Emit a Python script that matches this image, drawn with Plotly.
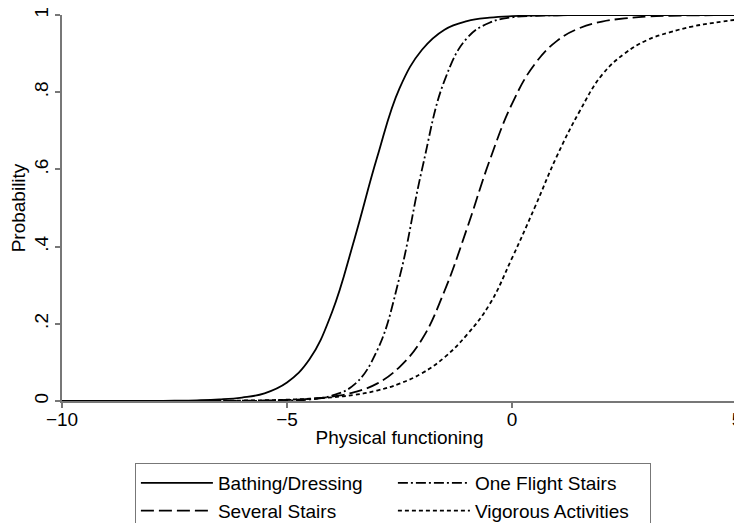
import plotly.graph_objects as go

# x grid (Physical functioning)
theta = [-10, -9.5, -9, -8.5, -8, -7.5, -7, -6.5, -6, -5.5, -5, -4.5, -4, -3.5, -3,
         -2.5, -2, -1.5, -1, -0.5, 0, 0.5, 1, 1.5, 2, 2.5, 3, 3.5, 4, 4.5, 5]

bathing = [0.0, 0.0, 0.0001, 0.0001, 0.0003, 0.0007, 0.0017, 0.004, 0.009, 0.02, 0.048,
           0.108, 0.23, 0.42, 0.63, 0.81, 0.91, 0.962, 0.984, 0.993, 0.997, 0.9985,
           0.9994, 0.9998, 1.0, 1.0, 1.0, 1.0, 1.0, 1.0, 1.0]

one_flight = [0.0, 0.0, 0.0, 0.0, 0.0, 0.0, 0.0001, 0.0001, 0.0002, 0.0004, 0.0013,
              0.004, 0.014, 0.043, 0.13, 0.32, 0.60, 0.83, 0.94, 0.98, 0.994, 0.998,
              0.9994, 0.9998, 1.0, 1.0, 1.0, 1.0, 1.0, 1.0, 1.0]

several = [0.0, 0.0, 0.00001, 0.00002, 0.00004, 0.00008, 0.00016, 0.00033, 0.00067,
           0.0014, 0.0028, 0.0056, 0.0113, 0.023, 0.045, 0.088, 0.16, 0.285, 0.447,
           0.622, 0.77, 0.872, 0.933, 0.966, 0.983, 0.991, 0.996, 0.998, 0.999,
           0.9995, 0.9998]

vigorous = [0.00002, 0.00003, 0.00004, 0.00007, 0.00013, 0.0002, 0.0004, 0.0007, 0.0012,
            0.002, 0.0034, 0.0058, 0.0095, 0.016, 0.027, 0.045, 0.072, 0.113, 0.172,
            0.25, 0.37, 0.50, 0.635, 0.75, 0.845, 0.90, 0.935, 0.955, 0.97, 0.98, 0.988]

names = ["Bathing/Dressing", "One Flight Stairs", "Several Stairs", "Vigorous Activities"]
series = [bathing, one_flight, several, vigorous]
dashes = ["solid", "10px,3px,2px,3px", "13px,5px", "4px,3px"]

x_ticks = [-10, -5, 0, 5]
x_tick_text = ["\u221210", "\u22125", "0", "5"]
y_ticks = [0, 0.2, 0.4, 0.6, 0.8, 1]
y_tick_text = ["0", ".2", ".4", ".6", ".8", "1"]

FS = 19

fig = go.Figure()
for name, ys, dash in zip(names, series, dashes):
    fig.add_trace(go.Scatter(
        x=theta, y=ys, name=name, mode="lines",
        line=dict(color="black", width=1.8, dash=dash, shape="spline", smoothing=1.2),
    ))

axis_common = dict(
    showgrid=False, zeroline=False, showline=True, linecolor="#777777", linewidth=1.5,
    ticks="outside", ticklen=5, tickwidth=1.5, tickcolor="#777777",
    tickfont=dict(size=FS, color="black"), ticklabeloverflow="allow",
)

# page body has an 8px margin: figure is 734x515 so it fills the 742x523 window
fig.update_layout(
    width=734, height=515,
    margin=dict(l=54, r=5, t=7, b=122, autoexpand=False),
    paper_bgcolor="white", plot_bgcolor="white",
    font=dict(family="Liberation Sans, Arial, sans-serif", size=FS, color="black"),
    xaxis=dict(range=[-10, 5], tickvals=x_ticks, ticktext=x_tick_text,
               ticklabelstandoff=-5,
               title=dict(text="Physical functioning", standoff=2, font=dict(size=FS)),
               **axis_common),
    yaxis=dict(range=[0, 1], tickvals=y_ticks, ticktext=y_tick_text, tickangle=-90,
               title=dict(text="Probability", standoff=2, font=dict(size=FS)),
               **axis_common),
    showlegend=True,
    legend=dict(
        orientation="h", x=0.108, y=-0.1606, xanchor="left", yanchor="top",
        bordercolor="#777777", borderwidth=1, bgcolor="white",
        entrywidth=170, entrywidthmode="pixels", itemwidth=72,
        font=dict(size=FS, color="black"), traceorder="normal",
    ),
)

fig.write_html("out.html")
